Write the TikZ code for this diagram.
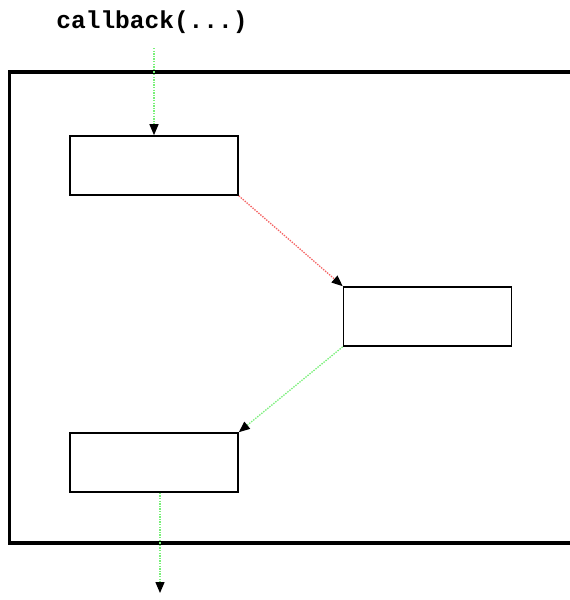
\documentclass[tikz,border=0pt]{standalone}
\usepackage{fontspec}
\newfontfamily\codefont{Liberation Mono}
\usetikzlibrary{arrows.meta,calc}
\definecolor{lgreen}{RGB}{120,240,120}
\definecolor{lred}{RGB}{245,100,100}
\tikzset{
  stepbox/.style={draw=black,line width=1.6pt,minimum width=168pt,minimum height=59pt,inner sep=0pt,fill=white},
  flow/.style={line width=1.3pt,dash pattern=on 1.4pt off 1.2pt,-{Triangle[length=11pt,width=9pt,black]}},
  frame/.style={draw=black,line width=3.2pt},
}
\begin{document}
\begin{tikzpicture}[x=1pt,y=-1pt]
\useasboundingbox (0,0) rectangle (570,600);
\clip (0,0) rectangle (570,600);
\fill[white] (0,0) rectangle (570,600);
\draw[frame] (580,72) -- (9.5,72) -- (9.5,543) -- (580,543);
\node[font=\codefont\bfseries\fontsize{24.5}{28}\selectfont] (lbl) at (152,22) {callback(...)};
\node[stepbox] (b1) at (154,165.5) {};
\node[stepbox] (b2) at (427.5,316.5) {};
\node[stepbox] (b3) at (154,462.5) {};
\coordinate (in) at (154,48);
\coordinate (out) at (160,593);
\draw[flow,lgreen] (in) -- (b1.north);
\draw[flow,lred] (b1.south east) -- (b2.north west);
\draw[flow,lgreen] (b2.south west) -- (b3.north east);
\draw[flow,lgreen] (b3.south -| out) -- (out);
\end{tikzpicture}
\end{document}
